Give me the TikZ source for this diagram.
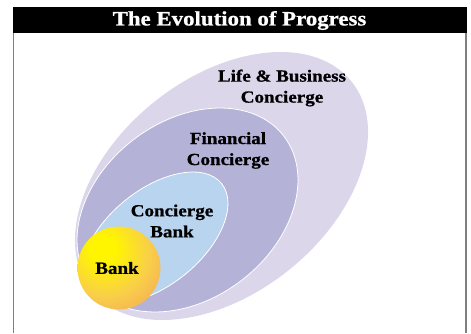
\documentclass[tikz,border=0pt]{standalone}
\usepackage{fontspec}
\setmainfont{Liberation Serif}[FakeStretch=1.12, BoldFeatures={FakeBold=0.8}]
\definecolor{lifefill}{HTML}{DCD6EA}
\definecolor{finfill}{HTML}{B4B3D7}
\definecolor{cbankfill}{HTML}{B9D4EE}
\definecolor{framegray}{HTML}{7F7F7F}
\definecolor{ballcore}{HTML}{FFF500}
\definecolor{ballmid}{HTML}{F9CF48}
\definecolor{ballrim}{HTML}{F2A35E}
\pgfdeclareradialshading{bankball}{\pgfpoint{-11bp}{13bp}}{%
  color(0bp)=(ballcore); color(8bp)=(ballcore); color(26bp)=(ballmid);
  color(44bp)=(ballrim); color(90bp)=(ballrim)}
\tikzset{
  ring/.style={draw=white, line width=0.8pt},
  label/.style={font=\bfseries\fontsize{17}{21}\selectfont, align=center, text=black},
  titletext/.style={font=\bfseries\fontsize{20.4}{22}\selectfont, text=white}
}
\begin{document}
\begin{tikzpicture}[x=1pt,y=-1pt]
\useasboundingbox (0,0) rectangle (471,333);

% header bar and side rules
\fill[black] (12.7,7.3) rectangle (466.7,33);
\node[titletext] (title) at (239.5,20.5) {The Evolution of Progress};
\draw[framegray, line width=1.5pt] (13.3,33) -- (13.3,333);
\draw[framegray, line width=1.5pt] (466,33) -- (466,333);

% nested ellipses
\fill[lifefill, rotate around={38.75:(221.5,186)}] (221.5,186) ellipse [x radius=166.8, y radius=107.7];
\draw[ring, fill=finfill, rotate around={37.4:(187.5,210)}] (187.5,210) ellipse [x radius=121.4, y radius=88.7];
\draw[ring, fill=cbankfill, rotate around={39.1:(155,237.5)}] (155,237.5) ellipse [x radius=85.7, y radius=47.6];

% core circle
\shade[shading=bankball] (119,268) circle [radius=41.5];

% labels
\node[label] (life) at (282,88) {Life \& Business\\Concierge};
\node[label] (fin) at (228,150.5) {Financial\\Concierge};
\node[label] (cbank) at (172,221) {Concierge\\Bank};
\node[label] (bank) at (117,268) {Bank};
\end{tikzpicture}
\end{document}
